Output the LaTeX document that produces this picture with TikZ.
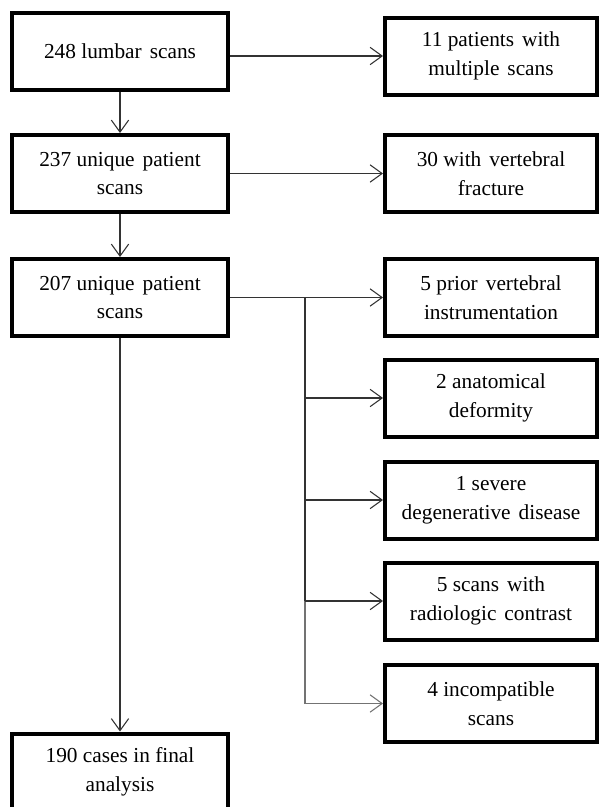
\documentclass[tikz,border=0pt]{standalone}
\usepackage{fontspec}
\setmainfont{Liberation Serif}
\usetikzlibrary{arrows.meta}
\newcommand{\mygap}{\hspace{6pt}}
\tikzset{
  box/.style={draw=black, line width=3pt, minimum width=162pt, minimum height=57.75pt,
    inner sep=0pt, align=center, font=\fontsize{16}{21.5}\selectfont, fill=white},
  rbox/.style={box, minimum width=159pt},
  conn/.style={draw=black!80, line width=0.8pt},
  arr/.style={conn, -{Straight Barb[length=9pt,width=13pt,line width=0.8pt]}},
  garr/.style={arr, draw=black!55},
}
\begin{document}
\begin{tikzpicture}[x=0.75pt,y=-0.75pt]
\useasboundingbox[fill=white] (0,0) rectangle (599,807);
% left column
\node[box] (L1) at (120,51.5) {248 lumbar\mygap scans};
\node[box] (L2) at (120,173.5) {237 unique\mygap patient\\scans};
\node[box] (L3) at (120,297.5) {207 unique\mygap patient\\scans};
\node[box] (L4) at (120,772) {190 cases in final\\analysis};
% right column
\node[rbox] (R1) at (491,56) {11 patients\mygap with\\multiple\mygap scans};
\node[rbox] (R2) at (491,173.5) {30 with\mygap vertebral\\fracture};
\node[rbox] (R3) at (491,297.5) {5 prior\mygap vertebral\\instrumentation};
\node[rbox] (R4) at (491,398) {2 anatomical\\deformity};
\node[rbox] (R5) at (491,500) {1 severe\\degenerative\mygap disease};
\node[rbox] (R6) at (491,601) {5 scans\mygap with\\radiologic\mygap contrast};
\node[rbox] (R7) at (491,703.5) {4 incompatible\\scans};
% bus
\coordinate (bt) at (305,297.5);
\coordinate (b4) at (305,398);
\coordinate (b5) at (305,500);
\coordinate (b6) at (305,601);
\coordinate (b7) at (305,703.5);
% connectors
\draw[arr] (L1.south) -- (L2.north);
\draw[arr] (L2.south) -- (L3.north);
\draw[arr] (L3.south) -- (L4.north);
\draw[arr] (L1.east |- R1.west) -- (R1.west);
\draw[arr] (L2.east) -- (R2.west);
\draw[arr] (L3.east) -- (R3.west);
\draw[conn] (bt) -- (b6);
\draw[conn, draw=black!55] (b6) -- (b7);
\draw[arr] (b4) -- (R4.west);
\draw[arr] (b5) -- (R5.west);
\draw[arr] (b6) -- (R6.west);
\draw[garr] (b7) -- (R7.west);
\end{tikzpicture}
\end{document}
